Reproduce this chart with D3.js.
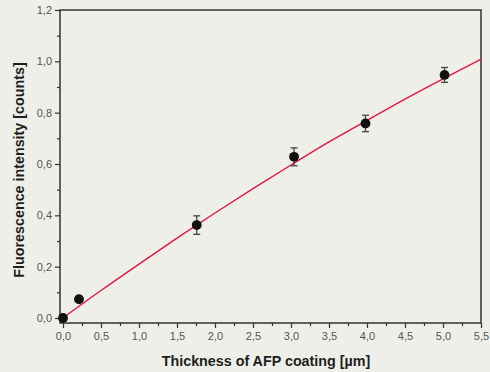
<!DOCTYPE html>
<html><head><meta charset="utf-8">
<script src="https://cdn.jsdelivr.net/npm/d3@7"></script>
<style>body{margin:0;background:#efefe9;}svg{display:block;}</style>
</head><body>
<svg id="c" width="490" height="372"></svg>
<script>
const thickness = [0.0, 0.21, 1.76, 3.04, 3.98, 5.02];
const intensity = [0.0, 0.073, 0.362, 0.628, 0.758, 0.947];
const errors = [0, 0, 0.036, 0.035, 0.032, 0.029];
const fitX = [-0.03, 0.5, 1.0, 1.5, 2.0, 2.5, 3.0, 3.5, 4.0, 4.5, 5.0, 5.5];
const fitY = [-0.006, 0.107, 0.21, 0.311, 0.409, 0.504, 0.596, 0.686, 0.77, 0.853, 0.932, 1.008];
const xTicks = [0, 0.5, 1, 1.5, 2, 2.5, 3, 3.5, 4, 4.5, 5, 5.5];
const yTicks = [0, 0.2, 0.4, 0.6, 0.8, 1.0, 1.2];
const fmt = d => d.toFixed(1).replace('.', ',');

(function(){
const svg = d3.select('#c');
svg.append('rect').attr('width',490).attr('height',372).attr('fill','#efefe9');
const x = d3.scaleLinear().domain([0,5.5]).range([63,481]);
const y = d3.scaleLinear().domain([0,1.2]).range([318,10]);
const pL = 60, pB = 323, pT = 10, pR = 481;

svg.append('path').attr('d',`M${pL},${pT}H${pR}V${pB}H${pL}Z`)
  .attr('fill','none').attr('stroke','#333').attr('stroke-width',1.5);

const tickCol = '#333';
const yAx = svg.append('g').attr('transform',`translate(${pL},0)`)
  .call(d3.axisLeft(y).tickValues(yTicks).tickFormat(fmt).tickSize(5).tickPadding(3));
const yMinor = svg.append('g').attr('transform',`translate(${pL},0)`)
  .call(d3.axisLeft(y).tickValues(d3.range(0.1,1.2,0.2)).tickFormat('').tickSize(3));
const xAx = svg.append('g').attr('transform',`translate(0,${pB})`)
  .call(d3.axisBottom(x).tickValues(xTicks).tickFormat(fmt).tickSize(5).tickPadding(4));
const xMinor = svg.append('g').attr('transform',`translate(0,${pB})`)
  .call(d3.axisBottom(x).tickValues(d3.range(0.25,5.5,0.5)).tickFormat('').tickSize(3));
[yAx,yMinor,xAx,xMinor].forEach(g=>{
  g.select('.domain').remove();
  g.selectAll('line').attr('stroke',tickCol).attr('stroke-width',1.2);
  g.selectAll('text').attr('fill','#555').style('font-family','Liberation Sans, Arial, sans-serif').style('font-size','11px');
});

const fit = fitX.map((v,i)=>[v,fitY[i]]);
svg.append('path').datum(fit)
  .attr('d', d3.line().x(d=>x(d[0])).y(d=>y(d[1])).curve(d3.curveMonotoneX))
  .attr('fill','none').attr('stroke','#e2153f').attr('stroke-width',1.4);

const data = thickness.map((t,i)=>({t,v:intensity[i],e:errors[i]}));
const eb = svg.append('g').attr('stroke','#444').attr('stroke-width',1.3);
data.filter(d=>d.e>0).forEach(d=>{
  const cx = x(d.t);
  eb.append('line').attr('x1',cx).attr('x2',cx).attr('y1',y(d.v+d.e)).attr('y2',y(d.v-d.e));
  eb.append('line').attr('x1',cx-3.5).attr('x2',cx+3.5).attr('y1',y(d.v+d.e)).attr('y2',y(d.v+d.e));
  eb.append('line').attr('x1',cx-3.5).attr('x2',cx+3.5).attr('y1',y(d.v-d.e)).attr('y2',y(d.v-d.e));
});
svg.append('g').selectAll('circle').data(data).join('circle')
  .attr('cx',d=>x(d.t)).attr('cy',d=>y(d.v)).attr('r',4.9).attr('fill','#111');

svg.append('text').attr('x',266).attr('y',366).attr('text-anchor','middle')
  .style('font-family','Liberation Sans, Arial, sans-serif').style('font-size','14.3px').style('font-weight','bold')
  .attr('fill','#1e1e1e').text('Thickness of AFP coating [µm]');
svg.append('text').attr('transform','translate(24,170) rotate(-90)').attr('text-anchor','middle')
  .style('font-family','Liberation Sans, Arial, sans-serif').style('font-size','14.3px').style('font-weight','bold')
  .attr('fill','#1e1e1e').text('Fluorescence intensity [counts]');
})();
</script>
</body></html>
